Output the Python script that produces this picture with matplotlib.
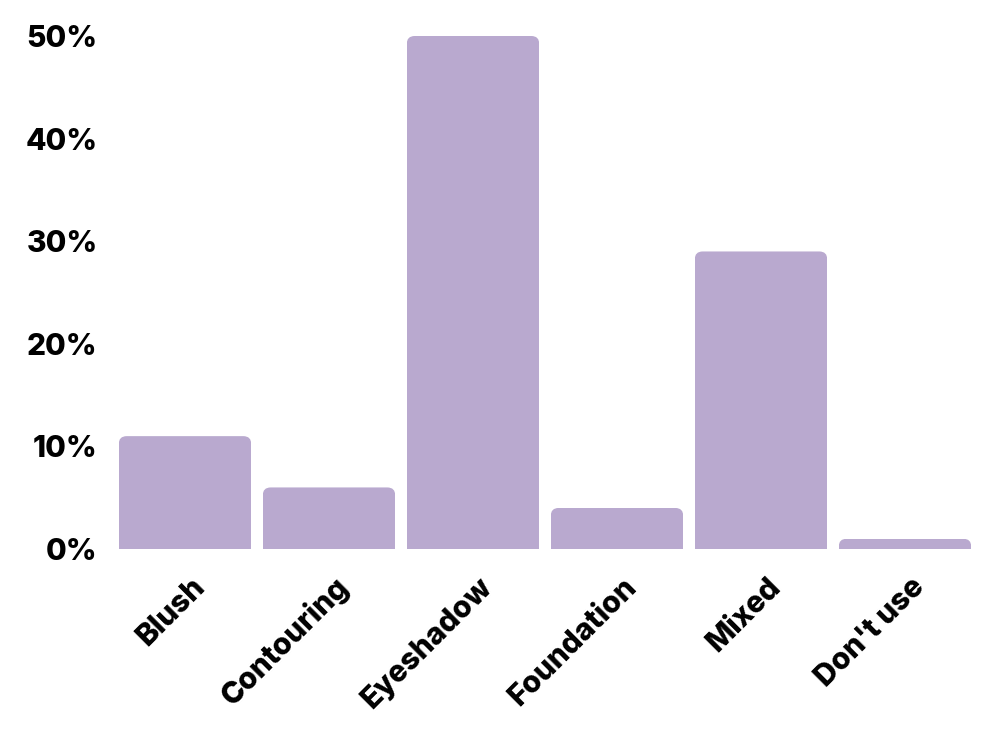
import numpy as np
import matplotlib
matplotlib.use("Agg")
import matplotlib.pyplot as plt
from matplotlib.patches import FancyBboxPatch
import matplotlib.transforms as mtransforms

categories = ["Blush", "Contouring", "Eyeshadow", "Foundation", "Mixed", "Don't use"]
shares = [11, 6, 50, 4, 29, 1]
yticks = [0, 10, 20, 30, 40, 50]

bar_color = "#b9a9cf"
plt.rcParams["font.family"] = ["Inter", "DejaVu Sans"]

fig = plt.figure(figsize=(10, 7.5), dpi=100)
ax = fig.add_axes([0.113, 0.268, 0.864, 0.684])

x = np.arange(len(categories))
bars = ax.bar(x, shares, width=0.92, color=bar_color)

ax.set_xlim(-0.5, len(categories) - 0.5)
ax.set_ylim(0, 50)

# Rounded tops: clip each bar with a rounded box extending below zero
for b in bars:
    x0, w, h = b.get_x(), b.get_width(), b.get_height()
    clip = FancyBboxPatch((x0, -5), w, h + 5,
                          boxstyle="round,pad=0,rounding_size=0.055",
                          mutation_aspect=14.0, transform=ax.transData,
                          facecolor="none", edgecolor="none")
    ax.add_patch(clip)
    b.set_clip_path(clip)

for s in ax.spines.values():
    s.set_visible(False)

ax.set_yticks(yticks, labels=[f"{v}%" for v in yticks])
ax.set_xticks(x, labels=categories)
ax.tick_params(axis="both", length=0, labelsize=21.5)
ax.tick_params(axis="y", pad=11)
ax.tick_params(axis="x", pad=24)
for lab in ax.get_yticklabels() + ax.get_xticklabels():
    lab.set_fontweight("heavy")

offset = mtransforms.ScaledTranslation(0.15, 0, fig.dpi_scale_trans)
for lab in ax.get_xticklabels():
    lab.set_rotation(45)
    lab.set_ha("right")
    lab.set_va("center")
    lab.set_rotation_mode("anchor")
    lab.set_transform(lab.get_transform() + offset)

fig.savefig("out.png", dpi=100)
